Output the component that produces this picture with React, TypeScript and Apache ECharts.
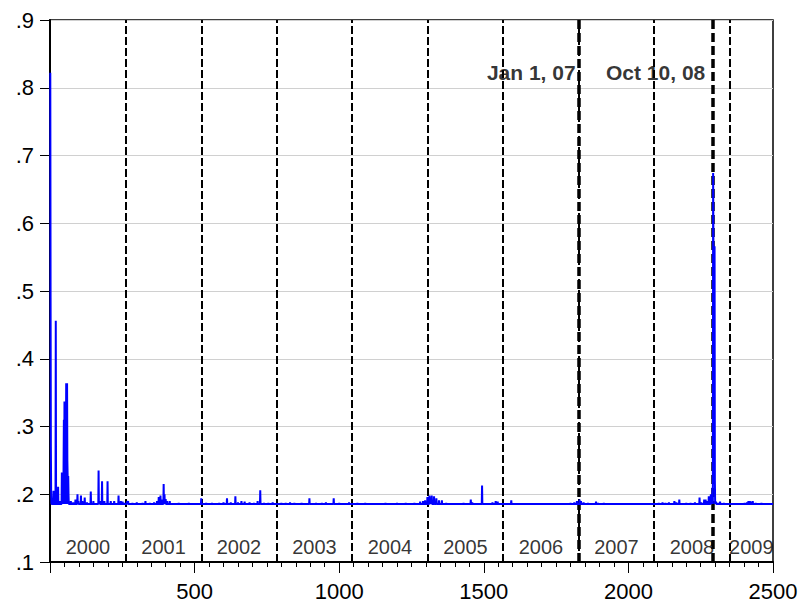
import React, { useEffect, useRef } from 'react';
import * as echarts from 'echarts';

// ---- data ----
const BASELINE = 0.1855;
const X_END = 2500;

const spikeIdx = [
  1, 2, 3, 4, 12, 20, 28, 35,
  41, 43, 45, 48, 50, 54, 55, 56, 59, 60, 61, 63, 64,
  72, 80, 88, 95, 98, 107, 112, 120, 128, 141, 150, 168, 172, 180, 188, 199, 210, 222, 237, 245, 251, 258,
  267, 270, 285, 300, 320, 330, 345, 360, 370, 376, 382, 388, 393, 396, 400, 405, 414, 430, 445, 460, 480, 500,
  523, 540, 560, 585, 600, 612, 625, 641, 650, 662, 673, 690, 705, 718, 727, 740, 755, 770,
  800, 815, 830, 845, 870, 897, 920, 940, 954, 981, 1000, 1034,
  1063, 1090, 1120, 1160, 1200, 1230, 1260, 1280, 1290, 1297,
  1305, 1312, 1316, 1320, 1328, 1336, 1345, 1355, 1370, 1400, 1430, 1455, 1460, 1494, 1530, 1541, 1548,
  1595, 1620, 1660, 1700, 1750, 1800, 1813, 1822,
  1831, 1836, 1845, 1860, 1888, 1895, 1915, 1950, 2000, 2050,
  2105, 2118, 2128, 2140, 2159, 2166, 2176, 2200, 2215, 2230, 2246, 2252, 2262, 2267, 2273, 2278, 2285, 2288,
  2291, 2293, 2294, 2295, 2296, 2297, 2298, 2299, 2303, 2310, 2317, 2330,
  2360, 2380, 2402, 2410, 2415, 2420, 2425, 2430, 2440, 2460, 2480,
];
const spikeVal = [
  0.822, 0.49, 0.27, 0.2, 0.205, 0.456, 0.211, 0.19,
  0.232, 0.2, 0.23, 0.31, 0.337, 0.337, 0.26, 0.364, 0.364, 0.25, 0.227, 0.227, 0.2,
  0.19, 0.188, 0.192, 0.2, 0.19, 0.198, 0.19, 0.195, 0.188, 0.204, 0.19, 0.235, 0.19, 0.219, 0.19, 0.219, 0.19, 0.19, 0.198, 0.19, 0.189, 0.187,
  0.19, 0.19, 0.187, 0.188, 0.187, 0.19, 0.187, 0.188, 0.19, 0.196, 0.198, 0.192, 0.215, 0.2, 0.193, 0.19, 0.19, 0.186, 0.187, 0.186, 0.187, 0.186,
  0.194, 0.187, 0.187, 0.187, 0.188, 0.194, 0.188, 0.197, 0.188, 0.19, 0.189, 0.188, 0.187, 0.19, 0.206, 0.187, 0.187, 0.188,
  0.187, 0.187, 0.188, 0.187, 0.187, 0.194, 0.187, 0.187, 0.188, 0.194, 0.187, 0.188,
  0.187, 0.187, 0.186, 0.187, 0.187, 0.187, 0.187, 0.189, 0.19, 0.191,
  0.196, 0.198, 0.195, 0.198, 0.197, 0.194, 0.191, 0.191, 0.187, 0.186, 0.187, 0.192, 0.188, 0.213, 0.188, 0.19, 0.189,
  0.191, 0.186, 0.186, 0.186, 0.186, 0.187, 0.188, 0.19,
  0.192, 0.19, 0.188, 0.187, 0.189, 0.187, 0.187, 0.186, 0.186, 0.186,
  0.187, 0.188, 0.187, 0.188, 0.19, 0.188, 0.192, 0.187, 0.187, 0.188, 0.195, 0.188, 0.192, 0.192, 0.19, 0.197, 0.2, 0.19,
  0.21, 0.674, 0.566, 0.3, 0.566, 0.35, 0.566, 0.22, 0.189, 0.187, 0.189, 0.187,
  0.186, 0.186, 0.187, 0.188, 0.19, 0.19, 0.189, 0.19, 0.187, 0.187, 0.186,
];

const yearLabels = ['2000', '2001', '2002', '2003', '2004', '2005', '2006', '2007', '2008', '2009'];
const yearBoundaries = [262, 523, 784, 1045, 1306, 1567, 1828, 2089, 2350];
const eventX = [1828, 2290];
const eventLabels = ['Jan 1, 07', 'Oct 10, 08'];
const xTicks = [500, 1000, 1500, 2000, 2500];
const yTicks = [0.1, 0.2, 0.3, 0.4, 0.5, 0.6, 0.7, 0.8, 0.9];

// ---- build line points: spikes plus baseline neighbours ----
function buildLine(): [number, number][] {
  const m = new Map<number, number>();
  spikeIdx.forEach((x, i) => m.set(x, spikeVal[i]));
  const all = new Map<number, number>(m);
  spikeIdx.forEach((x) => {
    if (x - 1 >= 1 && !m.has(x - 1)) all.set(x - 1, BASELINE);
    if (!m.has(x + 1)) all.set(x + 1, BASELINE);
  });
  all.set(X_END, BASELINE);
  return Array.from(all.entries()).sort((a, b) => a[0] - b[0]);
}

const FONT = '"Liberation Sans", Arial, Helvetica, sans-serif';

function buildOption() {
  const lineData = buildLine();
  const bounds = [0, ...yearBoundaries, X_END];
  const yearData = yearLabels.map((name, i) => ({
    name,
    value: [(bounds[i] + bounds[i + 1]) / 2, 0.122],
  }));
  const eventData = eventLabels.map((name, i) => ({
    name,
    value: [eventX[i], 0.823],
    label: { distance: i === 0 ? 3 : 7 },
  }));
  const markData: any[] = [
    ...yearBoundaries.map((x) => ({
      xAxis: x,
      lineStyle: { color: '#000', width: 2, type: [8, 3] },
    })),
    ...eventX.map((x) => ({
      xAxis: x,
      lineStyle: { color: '#000', width: 3.5, type: [9, 4] },
    })),
  ];
  return {
    animation: false,
    textStyle: { fontFamily: FONT },
    grid: {
      left: 50,
      top: 20,
      right: 29,
      bottom: 45,
      show: true,
      borderColor: '#000',
      borderWidth: 1.5,
      backgroundColor: 'transparent',
    },
    xAxis: {
      type: 'value',
      min: 0,
      max: X_END,
      interval: 500,
      axisLine: { show: true, onZero: false, lineStyle: { color: '#000', width: 2 } },
      axisTick: { show: true, length: 11, lineStyle: { color: '#000', width: 1 } },
      minorTick: { show: true, splitNumber: 10, length: 5, lineStyle: { color: '#000', width: 1 } },
      splitLine: { show: false },
      axisLabel: {
        margin: 18,
        fontSize: 22,
        color: '#000',
        fontFamily: FONT,
        formatter: (v: number) => (xTicks.includes(v) ? String(v) : ''),
      },
    },
    yAxis: {
      type: 'value',
      min: 0.1,
      max: 0.9,
      interval: 0.1,
      axisLine: { show: true, onZero: false, lineStyle: { color: '#000', width: 2 } },
      axisTick: { show: true, length: 10, lineStyle: { color: '#000', width: 1 } },
      splitLine: { show: true, lineStyle: { color: '#d0d0d0', width: 1 } },
      axisLabel: {
        margin: 16,
        fontSize: 22,
        color: '#000',
        fontFamily: FONT,
        formatter: (v: number) => {
          const r = Math.round(v * 10) / 10;
          return yTicks.some((t) => Math.abs(t - r) < 1e-9) ? r.toFixed(1).replace(/^0/, '') : '';
        },
      },
    },
    series: [
      {
        type: 'line',
        data: [[0, BASELINE]],
        showSymbol: false,
        symbol: 'none',
        lineStyle: { width: 0, opacity: 0 },
        z: 1,
        silent: true,
        markLine: {
          silent: true,
          symbol: ['none', 'none'],
          label: { show: false },
          data: markData,
          z: 1,
        },
      },
      {
        type: 'line',
        data: lineData,
        showSymbol: false,
        symbol: 'none',
        lineStyle: { color: '#0000ff', width: 2 },
        z: 3,
      },
      {
        type: 'scatter',
        data: yearData,
        symbolSize: 0,
        silent: true,
        z: 5,
        label: {
          show: true,
          position: 'inside',
          formatter: '{b}',
          fontSize: 20,
          color: '#000',
          fontFamily: FONT,
        },
      },
      {
        type: 'scatter',
        data: eventData,
        symbolSize: 0,
        silent: true,
        z: 5,
        label: {
          show: true,
          position: 'left',
          formatter: '{b}',
          fontSize: 21,
          fontWeight: 'bold',
          color: '#000',
          fontFamily: FONT,
        },
      },
    ],
  };
}

export default function App() {
  const ref = useRef<HTMLDivElement>(null);
  useEffect(() => {
    document.body.style.margin = '0';
    const chart = echarts.init(ref.current as HTMLDivElement, null, { renderer: 'svg' });
    chart.setOption(buildOption() as any);
    return () => chart.dispose();
  }, []);
  return <div ref={ref} style={{ width: 802, height: 607, background: '#fff' }} />;
}
